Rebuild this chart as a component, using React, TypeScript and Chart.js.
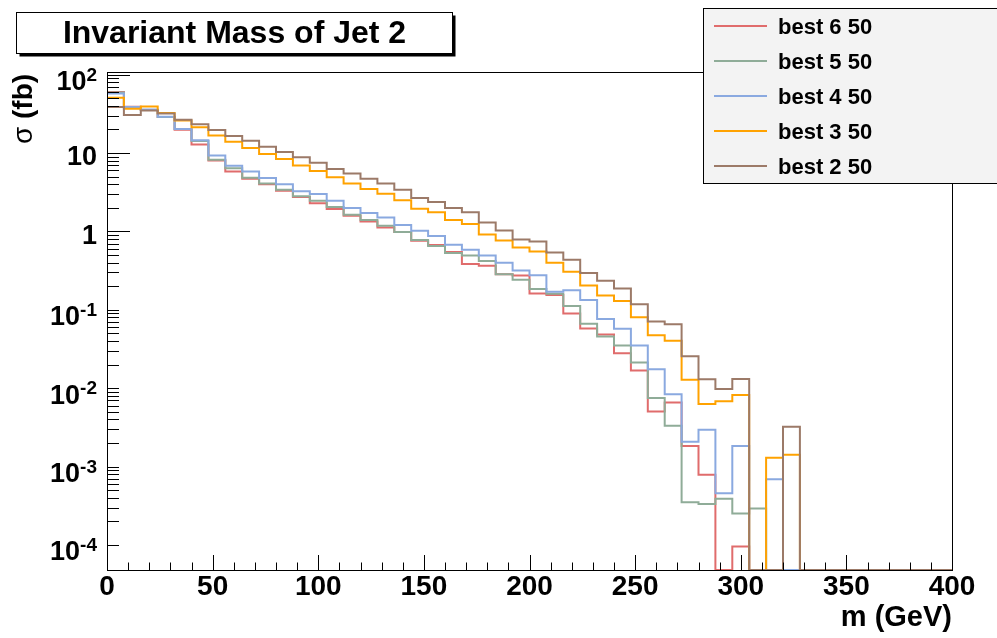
import React, { useEffect, useRef } from 'react';
import { Chart, registerables } from 'chart.js';

Chart.register(...registerables);

// ---------- data ----------
const BIN_WIDTH = 8; // GeV
const X_MIN = 0;
const X_MAX = 400;
const Y_MIN = 4.8e-5;
const Y_MAX = 108;

const seriesLabels = ['best 6 50', 'best 5 50', 'best 4 50', 'best 3 50', 'best 2 50'];
const seriesColors = ['#e06c6c', '#8fac98', '#8aa9e0', '#ffa200', '#9c7a68'];

const best6 = [
  60, 39, 35.5, 28.8, 19.8, 12.8, 8.0, 5.8, 4.7, 4.0, 3.3, 2.75, 2.28,
  1.93, 1.59, 1.34, 1.12, 0.98, 0.76, 0.67, 0.546, 0.383, 0.365, 0.285, 0.274,
  0.162, 0.155, 0.0897, 0.0577, 0.0484, 0.028, 0.0168, 0.00503, 0.00655, 0.00183, 0.00079, 0, 0.0000955,
  0, 0, 0, 0, 0, 0, 0, 0, 0, 0, 0, 0,
];
const best5 = [
  59, 38, 35.5, 28.8, 20.2, 14.2, 8.2, 6.4, 4.85, 4.1, 3.4, 2.8, 2.47,
  2.05, 1.63, 1.4, 1.18, 0.98, 0.78, 0.65, 0.53, 0.494, 0.42, 0.284, 0.242,
  0.184, 0.16, 0.112, 0.0662, 0.0458, 0.035, 0.0213, 0.0075, 0.00333, 0.00035, 0.000333, 0.00039, 0.000253, 0.000293,
  0, 0, 0, 0, 0, 0, 0, 0, 0, 0, 0,
];
const best4 = [
  57.6, 38.5, 36, 29, 20.3, 14.5, 9.3, 6.9, 5.8, 4.8, 4.0, 3.26, 3.0,
  2.47, 1.99, 1.72, 1.51, 1.21, 1.02, 0.873, 0.676, 0.583, 0.494, 0.397, 0.318,
  0.277, 0.17, 0.177, 0.133, 0.0765, 0.0575, 0.035, 0.0175, 0.0084, 0.00208, 0.00295, 0.000456, 0.00183,
  0, 0.00069, 0, 0, 0, 0, 0, 0, 0, 0, 0, 0,
];
const best3 = [
  50.8, 36.7, 39.3, 32.5, 25.9, 21.3, 16.7, 13.9, 11.6, 9.7, 8.4, 6.95, 5.88,
  4.9, 4.1, 3.48, 3.03, 2.49, 1.95, 1.75, 1.4, 1.24, 0.916, 0.768, 0.625,
  0.556, 0.398, 0.306, 0.204, 0.152, 0.13, 0.0803, 0.0475, 0.0402, 0.0128, 0.0063, 0.0068, 0.0082,
  0, 0.0013, 0.00142, 0, 0, 0, 0, 0, 0, 0, 0, 0,
];
const best2 = [
  38.6, 30.6, 34.8, 31.9, 26.5, 23.3, 19.7, 16.5, 14.3, 12.0, 10.3, 8.85, 7.5,
  6.27, 5.46, 4.71, 4.1, 3.41, 2.67, 2.37, 1.99, 1.75, 1.3, 1.03, 0.79,
  0.745, 0.54, 0.435, 0.294, 0.234, 0.187, 0.118, 0.071, 0.0656, 0.0256, 0.013, 0.0098, 0.0131,
  0, 0, 0.00323, 0, 0, 0, 0, 0, 0, 0, 0, 0,
];
const seriesValues = [best6, best5, best4, best3, best2];

const xTickLabels = [0, 50, 100, 150, 200, 250, 300, 350, 400];
const xMinorStep = 10;
const yTickExponents = [-4, -3, -2, -1, 0, 1, 2];

const titleText = 'Invariant Mass of Jet 2';
const xAxisTitle = 'm (GeV)';
const yAxisSymbol = 'σ';
const yAxisUnit = ' (fb)';

const FONT = '"Liberation Sans", Arial, Helvetica, sans-serif';

function histPoints(vals: number[]) {
  const pts = vals.map((v, i) => ({ x: X_MIN + i * BIN_WIDTH, y: v > 0 ? v : Y_MIN }));
  const last = vals[vals.length - 1];
  pts.push({ x: X_MIN + vals.length * BIN_WIDTH, y: last > 0 ? last : Y_MIN });
  return pts;
}

const rootPlugin = {
  id: 'rootDecor',
  afterDraw(chart: any) {
    const ctx: CanvasRenderingContext2D = chart.ctx;
    const area = chart.chartArea;
    const xs = chart.scales.x;
    const ys = chart.scales.y;
    ctx.save();

    // frame
    ctx.strokeStyle = '#000';
    ctx.lineWidth = 1;
    ctx.strokeRect(Math.round(area.left) + 0.5, Math.round(area.top) + 0.5,
      Math.round(area.right - area.left), Math.round(area.bottom - area.top));

    // x ticks (inside)
    ctx.beginPath();
    for (let v = X_MIN; v <= X_MAX; v += xMinorStep) {
      const px = Math.round(xs.getPixelForValue(v)) + 0.5;
      const major = xTickLabels.includes(v);
      const len = major ? 15 : 7.5;
      ctx.moveTo(px, area.bottom);
      ctx.lineTo(px, area.bottom - len);
    }
    ctx.stroke();

    // y ticks (inside)
    ctx.beginPath();
    for (const e of yTickExponents) {
      for (let m = 1; m <= 9; m++) {
        const val = m * Math.pow(10, e);
        if (val < Y_MIN || val > Y_MAX) continue;
        const py = Math.round(ys.getPixelForValue(val)) + 0.5;
        const len = m === 1 && e >= 0 ? 23 : 12;
        ctx.moveTo(area.left, py);
        ctx.lineTo(area.left + len, py);
      }
    }
    ctx.stroke();

    // x labels
    ctx.fillStyle = '#000';
    ctx.font = `bold 28px ${FONT}`;
    ctx.textAlign = 'center';
    ctx.textBaseline = 'middle';
    for (const v of xTickLabels) {
      ctx.fillText(String(v), xs.getPixelForValue(v), area.bottom + 17);
    }

    // y labels
    for (const e of yTickExponents) {
      const py = ys.getPixelForValue(Math.pow(10, e));
      const right = area.left - 10;
      if (e === 0 || e === 1) {
        ctx.font = `bold 27px ${FONT}`;
        ctx.textAlign = 'right';
        ctx.fillText(e === 0 ? '1' : '10', right, py + 5);
      } else {
        const sup = String(e);
        ctx.font = `bold 19px ${FONT}`;
        const sw = ctx.measureText(sup).width;
        ctx.textAlign = 'left';
        ctx.fillText(sup, right - sw, py + 1);
        ctx.font = `bold 27px ${FONT}`;
        ctx.textAlign = 'right';
        ctx.fillText('10', right - sw, py + 8);
      }
    }

    // x axis title
    ctx.font = `bold 29px ${FONT}`;
    ctx.textAlign = 'right';
    ctx.fillText(xAxisTitle, area.right, area.bottom + 48);

    // y axis title (rotated)
    ctx.save();
    ctx.translate(24, 109);
    ctx.rotate(-Math.PI / 2);
    ctx.font = `28px ${FONT}`;
    const w1 = ctx.measureText(yAxisSymbol).width;
    ctx.font = `bold 28px ${FONT}`;
    const w2 = ctx.measureText(yAxisUnit).width;
    const start = -(w1 + w2) / 2;
    ctx.textAlign = 'left';
    ctx.font = `28px ${FONT}`;
    ctx.fillText(yAxisSymbol, start, 0);
    ctx.font = `bold 28px ${FONT}`;
    ctx.fillText(yAxisUnit, start + w1, 0);
    ctx.restore();

    // title box with shadow
    ctx.fillStyle = '#000';
    ctx.fillRect(19.5, 15.5, 436, 41);
    ctx.fillStyle = '#fff';
    ctx.fillRect(16.5, 12.5, 436, 41);
    ctx.strokeStyle = '#000';
    ctx.lineWidth = 1;
    ctx.strokeRect(16.5, 12.5, 436, 41);
    ctx.fillStyle = '#000';
    ctx.font = `bold 32px ${FONT}`;
    ctx.textAlign = 'center';
    ctx.textBaseline = 'middle';
    ctx.fillText(titleText, 234.5, 34);

    // legend
    ctx.fillStyle = '#f3f3f3';
    ctx.fillRect(703.5, 8.5, 300, 175);
    ctx.strokeStyle = '#000';
    ctx.strokeRect(703.5, 8.5, 300, 175);
    ctx.font = `bold 22px ${FONT}`;
    ctx.textAlign = 'left';
    seriesLabels.forEach((lab, i) => {
      const ly = 26 + i * 35;
      ctx.strokeStyle = seriesColors[i];
      ctx.lineWidth = 2;
      ctx.beginPath();
      ctx.moveTo(714, ly);
      ctx.lineTo(767, ly);
      ctx.stroke();
      ctx.fillStyle = '#000';
      ctx.fillText(lab, 778, ly + 1.5);
    });

    ctx.restore();
  },
};

export default function App() {
  const ref = useRef<HTMLCanvasElement | null>(null);
  useEffect(() => {
    if (!ref.current) return;
    const datasets = seriesValues.map((vals, i) => ({
      label: seriesLabels[i],
      data: histPoints(vals),
      borderColor: seriesColors[i],
      backgroundColor: seriesColors[i],
      borderWidth: 2,
      pointRadius: 0,
      fill: false,
      stepped: 'before' as const,
      tension: 0,
      order: seriesValues.length - 1 - i,
    }));
    const chart = new Chart(ref.current, {
      type: 'line',
      data: { datasets },
      options: {
        animation: false,
        responsive: false,
        maintainAspectRatio: false,
        layout: { padding: { left: 107, top: 72, right: 45, bottom: 68 } },
        plugins: {
          legend: { display: false },
          tooltip: { enabled: false },
        },
        scales: {
          x: { type: 'linear', min: X_MIN, max: X_MAX, display: false },
          y: { type: 'logarithmic', min: Y_MIN, max: Y_MAX, display: false },
        },
      },
      plugins: [rootPlugin],
    } as any);
    return () => chart.destroy();
  }, []);
  return (
    <div style={{ position: 'absolute', left: 0, top: 0, width: 997, height: 638, background: '#fff' }}>
      <canvas ref={ref} width={997} height={638} style={{ display: 'block', width: 997, height: 638 }} />
    </div>
  );
}
